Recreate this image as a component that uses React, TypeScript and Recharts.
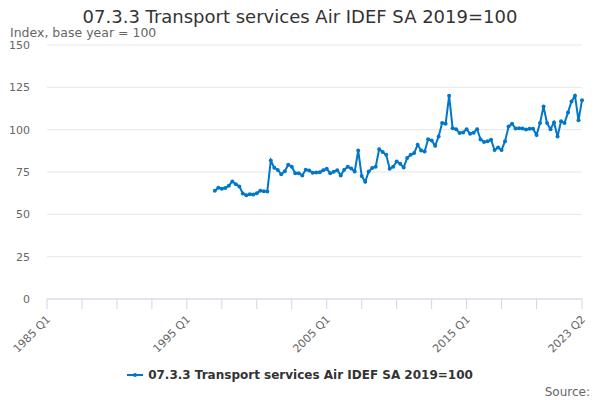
import React from 'react';
import { LineChart, Line, XAxis, YAxis, CartesianGrid, Legend } from 'recharts';

const SERIES_NAME = '07.3.3 Transport services Air IDEF SA 2019=100';
const FIRST_YEAR = 1985;
const QUARTER_COUNT = 154; // 1985 Q1 .. 2023 Q2
const DATA_START = '1997 Q1';

// quarterly index values from 1997 Q1 to 2023 Q2
const VALUES = [
  63.9, 65.7, 65.1, 65.5, 66.9, 69.4, 67.8, 66.5, 62.3, 61.2, 61.9, 61.7, 62.5, 63.9, 63.7, 63.5,
  81.8, 77.5, 76.2, 73.6, 75.5, 79.3, 78.1, 74.3, 74.3, 73.0, 76.3, 75.9, 74.5, 74.7, 74.9, 76.1,
  76.9, 74.2, 75.1, 76.1, 73.0, 76.3, 78.1, 77.1, 75.3, 87.7, 72.6, 69.2, 75.3, 77.3, 78.1, 88.5,
  86.8, 85.2, 76.9, 78.1, 81.2, 79.9, 77.7, 83.2, 85.2, 86.2, 91.1, 87.7, 87.1, 94.4, 93.6, 90.5,
  96.0, 103.9, 103.5, 120.0, 100.9, 100.3, 98.0, 98.4, 100.3, 97.6, 98.2, 100.3, 94.2, 92.7, 93.1, 94.0,
  88.0, 89.5, 88.0, 93.2, 101.8, 103.5, 100.7, 100.9, 100.7, 100.1, 100.5, 100.5, 96.8, 103.9, 113.7, 103.9,
  100.3, 104.3, 96.0, 104.9, 103.9, 110.2, 116.7, 120.0, 105.5, 117.3,
];

const Y_TICKS = [0, 25, 50, 75, 100, 125, 150];
const X_TICKS = [0, 10, 20, 30, 40, 50, 60, 70, 80, 90, 100, 110, 120, 130, 140, 153];
const TICK_LABELS = ['1985 Q1', '1995 Q1', '2005 Q1', '2015 Q1', '2023 Q2'];

const COLOR = '#0077c8';
const FONT = '"DejaVu Sans", sans-serif';

const quarterName = (i: number) => `${FIRST_YEAR + Math.floor(i / 4)} Q${(i % 4) + 1}`;

const quarters = Array.from({ length: QUARTER_COUNT }, (_, i) => quarterName(i));
const startIdx = quarters.indexOf(DATA_START);
const data = quarters.map((q, i) => ({
  idx: i,
  quarter: q,
  value: i >= startIdx ? VALUES[i - startIdx] ?? null : null,
}));

function XTick(props: any) {
  const { x, y, payload } = props;
  const label = quarters[payload.value];
  if (!TICK_LABELS.includes(label)) return null;
  return (
    <g transform={`translate(${x + 4},${y + 9})`}>
      <text textAnchor="end" transform="rotate(-45)" fill="#666666" fontSize={11} fontFamily={FONT}>
        {label}
      </text>
    </g>
  );
}

function LegendBox() {
  return (
    <div style={{ display: 'flex', justifyContent: 'center', alignItems: 'center', fontFamily: FONT }}>
      <svg width={16} height={10} style={{ marginRight: 5 }}>
        <line x1={0} y1={5} x2={16} y2={5} stroke={COLOR} strokeWidth={2} />
        <circle cx={8} cy={5} r={2} fill={COLOR} />
      </svg>
      <span style={{ fontSize: 12, fontWeight: 'bold', color: '#333333' }}>{SERIES_NAME}</span>
    </div>
  );
}

export default function App() {
  return (
    <div style={{ position: 'relative', width: 600, height: 400, fontFamily: FONT, background: '#fff' }}>
      <style>{'body{margin:0}'}</style>
      <div style={{ position: 'absolute', top: 8, left: 0, width: 600, textAlign: 'center', fontSize: 18, color: '#333333', lineHeight: '18px' }}>
        {SERIES_NAME}
      </div>
      <div style={{ position: 'absolute', top: 26.5, left: 10, fontSize: 12.5, color: '#666666', lineHeight: '12.5px' }}>
        Index, base year = 100
      </div>
      <LineChart width={600} height={400} data={data} margin={{ top: 45, right: 18, bottom: 41, left: 10 }}>
        <CartesianGrid vertical={false} stroke="#e6e6e6" />
        <XAxis
          dataKey="idx"
          type="number"
          domain={[0, 153]}
          ticks={X_TICKS}
          interval={0}
          height={60}
          stroke="#ccd6eb"
          tickSize={10}
          tick={<XTick />}
        />
        <YAxis
          domain={[0, 150]}
          ticks={Y_TICKS}
          width={37}
          axisLine={false}
          tickLine={false}
          tickSize={0}
          tickMargin={17}
          tick={{ fill: '#666666', fontSize: 11, fontFamily: FONT }}
        />
        <Legend
          verticalAlign="middle"
          align="center"
          content={<LegendBox />}
          wrapperStyle={{ top: 368, left: 0, width: 600 }}
        />
        <Line
          dataKey="value"
          name={SERIES_NAME}
          stroke={COLOR}
          strokeWidth={2}
          dot={{ r: 2, fill: COLOR, stroke: COLOR, strokeWidth: 0 }}
          activeDot={false}
          isAnimationActive={false}
        />
      </LineChart>
      <div style={{ position: 'absolute', top: 385, right: 10, fontSize: 12, color: '#666666', lineHeight: 'normal' }}>
        Source:
      </div>
    </div>
  );
}
